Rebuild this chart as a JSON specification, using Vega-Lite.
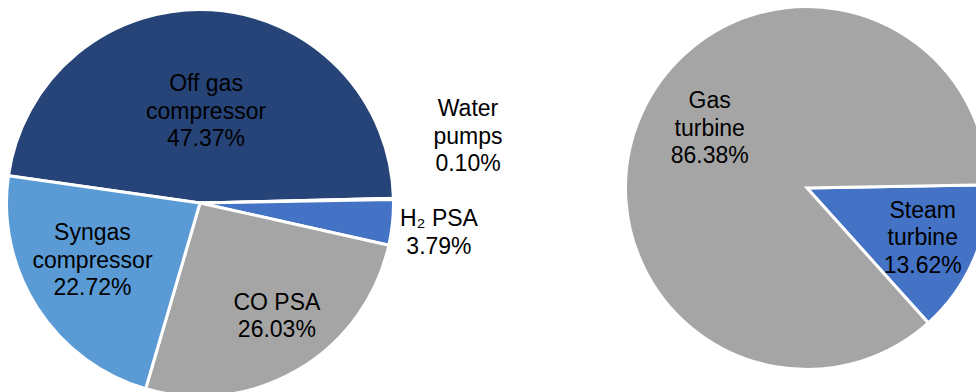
{
  "$schema": "https://vega.github.io/schema/vega-lite/v6.json",
  "padding": 0,
  "spacing": 227,
  "bounds": "flush",
  "background": "#ffffff",
  "config": {
    "view": {"stroke": null},
    "text": {"font": "Liberation Sans", "fontSize": 23, "lineHeight": 27.5, "lineBreak": "\n", "color": "#000000", "align": "center", "baseline": "middle"}
  },
  "resolve": {"scale": {"color": "independent", "theta": "independent"}},
  "hconcat": [
    {
      "width": 400,
      "height": 404,
      "data": {"values": [
        {"cat": "Off gas compressor", "value": 47.37, "rank": 1, "label": "Off gas\ncompressor\n47.37%"},
        {"cat": "Water pumps", "value": 0.10, "rank": 2, "label": "Water\npumps\n0.10%"},
        {"cat": "H2 PSA", "value": 3.79, "rank": 3, "label": "H₂ PSA\n3.79%"},
        {"cat": "CO PSA", "value": 26.03, "rank": 4, "label": "CO PSA\n26.03%"},
        {"cat": "Syngas compressor", "value": 22.72, "rank": 5, "label": "Syngas\ncompressor\n22.72%"}
      ]},
      "layer": [
        {
          "mark": {"type": "arc", "outerRadius": 193.5, "stroke": "#ffffff", "strokeWidth": 3},
          "encoding": {
            "theta": {"field": "value", "type": "quantitative", "stack": true, "scale": {"range": [4.8537, 11.1369]}},
            "order": {"field": "rank", "type": "quantitative"},
            "color": {"field": "cat", "type": "nominal", "legend": null,
              "scale": {"domain": ["Off gas compressor", "Water pumps", "H2 PSA", "CO PSA", "Syngas compressor"],
                        "range": ["#264478", "#ED7D31", "#4472C4", "#A5A5A5", "#5B9BD5"]}}
          }
        },
        {
          "transform": [
            {"stack": "value", "groupby": [], "sort": [{"field": "rank", "order": "ascending"}], "as": ["s0", "s1"]},
            {"filter": "datum.cat === 'Off gas compressor'"},
            {"fold": ["s0", "s1"], "as": ["edge", "pos"]},
            {"aggregate": [{"op": "mean", "field": "pos", "as": "mid"}], "groupby": ["cat", "label"]}
          ],
          "mark": {"type": "text", "radius": 119, "thetaOffset": -0.008},
          "encoding": {"theta": {"field": "mid", "type": "quantitative", "stack": null}, "text": {"field": "label"}}
        },
        {
          "transform": [
            {"stack": "value", "groupby": [], "sort": [{"field": "rank", "order": "ascending"}], "as": ["s0", "s1"]},
            {"filter": "datum.cat === 'Water pumps'"},
            {"fold": ["s0", "s1"], "as": ["edge", "pos"]},
            {"aggregate": [{"op": "mean", "field": "pos", "as": "mid"}], "groupby": ["cat", "label"]}
          ],
          "mark": {"type": "text", "radius": 284, "thetaOffset": -0.316},
          "encoding": {"theta": {"field": "mid", "type": "quantitative", "stack": null}, "text": {"field": "label"}}
        },
        {
          "transform": [
            {"stack": "value", "groupby": [], "sort": [{"field": "rank", "order": "ascending"}], "as": ["s0", "s1"]},
            {"filter": "datum.cat === 'H2 PSA'"},
            {"fold": ["s0", "s1"], "as": ["edge", "pos"]},
            {"aggregate": [{"op": "mean", "field": "pos", "as": "mid"}], "groupby": ["cat", "label"]}
          ],
          "mark": {"type": "text", "radius": 239.5, "thetaOffset": -0.034},
          "encoding": {"theta": {"field": "mid", "type": "quantitative", "stack": null}, "text": {"field": "label"}}
        },
        {
          "transform": [
            {"stack": "value", "groupby": [], "sort": [{"field": "rank", "order": "ascending"}], "as": ["s0", "s1"]},
            {"filter": "datum.cat === 'CO PSA'"},
            {"fold": ["s0", "s1"], "as": ["edge", "pos"]},
            {"aggregate": [{"op": "mean", "field": "pos", "as": "mid"}], "groupby": ["cat", "label"]}
          ],
          "mark": {"type": "text", "radius": 126, "thetaOffset": -0.123},
          "encoding": {"theta": {"field": "mid", "type": "quantitative", "stack": null}, "text": {"field": "label"}}
        },
        {
          "transform": [
            {"stack": "value", "groupby": [], "sort": [{"field": "rank", "order": "ascending"}], "as": ["s0", "s1"]},
            {"filter": "datum.cat === 'Syngas compressor'"},
            {"fold": ["s0", "s1"], "as": ["edge", "pos"]},
            {"aggregate": [{"op": "mean", "field": "pos", "as": "mid"}], "groupby": ["cat", "label"]}
          ],
          "mark": {"type": "text", "radius": 111.7, "thetaOffset": 0.298},
          "encoding": {"theta": {"field": "mid", "type": "quantitative", "stack": null}, "text": {"field": "label"}}
        }
      ]
    },
    {
      "width": 360,
      "height": 374,
      "data": {"values": [
        {"cat": "Steam turbine", "value": 13.62, "rank": 1, "label": "Steam\nturbine\n13.62%"},
        {"cat": "Gas turbine", "value": 86.38, "rank": 2, "label": "Gas\nturbine\n86.38%"}
      ]},
      "layer": [
        {
          "mark": {"type": "arc", "outerRadius": 181.5, "stroke": "#ffffff", "strokeWidth": 3},
          "encoding": {
            "theta": {"field": "value", "type": "quantitative", "stack": true, "scale": {"range": [1.5533, 7.8365]}},
            "order": {"field": "rank", "type": "quantitative"},
            "color": {"field": "cat", "type": "nominal", "legend": null,
              "scale": {"domain": ["Steam turbine", "Gas turbine"], "range": ["#4472C4", "#A5A5A5"]}}
          }
        },
        {
          "transform": [
            {"stack": "value", "groupby": [], "sort": [{"field": "rank", "order": "ascending"}], "as": ["s0", "s1"]},
            {"filter": "datum.cat === 'Steam turbine'"},
            {"fold": ["s0", "s1"], "as": ["edge", "pos"]},
            {"aggregate": [{"op": "mean", "field": "pos", "as": "mid"}], "groupby": ["cat", "label"]}
          ],
          "mark": {"type": "text", "radius": 118, "thetaOffset": -0.215},
          "encoding": {"theta": {"field": "mid", "type": "quantitative", "stack": null}, "text": {"field": "label"}}
        },
        {
          "transform": [
            {"stack": "value", "groupby": [], "sort": [{"field": "rank", "order": "ascending"}], "as": ["s0", "s1"]},
            {"filter": "datum.cat === 'Gas turbine'"},
            {"fold": ["s0", "s1"], "as": ["edge", "pos"]},
            {"aggregate": [{"op": "mean", "field": "pos", "as": "mid"}], "groupby": ["cat", "label"]}
          ],
          "mark": {"type": "text", "radius": 130.5, "thetaOffset": 0.319},
          "encoding": {"theta": {"field": "mid", "type": "quantitative", "stack": null}, "text": {"field": "label"}}
        }
      ]
    }
  ]
}
